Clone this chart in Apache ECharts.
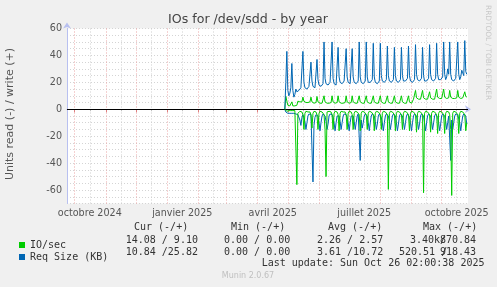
<!DOCTYPE html>
<html><head><meta charset="utf-8">
<script src="https://cdn.jsdelivr.net/npm/echarts@6/dist/echarts.min.js"></script>
<style>html,body{margin:0;padding:0;background:#f0f0f0}#c{width:497px;height:287px}</style>
</head><body><div id="c"></div>
<script>
// ---- data ----
const startDay = '2025-04-28';
// write Req Size (KB), daily
const reqWrite = [
 0,20,43,14,10,12,16,34,14,9,11,15,13,12,14,15,16,17,
 43,20,16,15,15,16,17,17,
 35,21,17,16,16,17,
 37,22,18,17,17,18,19,
 50,23,19,18,18,19,20,20,
 50,23,19,18,18,19,
 46,24,20,19,19,20,21,21,
 45,24,20,19,19,20,
 45,24,20,19,19,20,21,
 50,24,20,19,19,20,21,
 50,24,20,19,20,21,22,
 49,24,20,19,19,20,21,
 49,25,21,20,20,21,22,
 47,25,21,20,20,21,22,
 46,25,21,20,20,21,22,
 46,25,21,20,21,22,23,
 47,25,21,20,20,21,22,
 48,26,22,21,21,22,23,
 46,25,21,20,21,22,23,
 48,26,22,21,21,22,23,
 49,26,22,21,22,23,24,
 50,26,22,24,30,26,
 50,26,22,21,21,22,23,23,
 50,26,22,24,29,27,25,
 51,28,26
];
// read Req Size (KB), daily (shown negative)
const reqRead = [
 0,2,3,3,3,3,3,3,3,3,3.5,3.5,4,4,5,8,12,6,
 4,5,9,15,10,5,3.5,3.5,
 4,5,54,12,6,4,
 4,5,10,16,10,5,3.5,
 4,5,9,15,11,5,3.5,3.5,
 4,6,10,16,10,5,
 4,5,9,15,10,5,3.5,3.5,
 4,6,10,16,10,5,
 4,5,9,15,10,5,3.5,
 4,38,8,14,10,5,3.5,
 4,5,10,16,10,5,3.5,
 4,5,9,15,11,5,3.5,
 4,6,10,16,10,5,3.5,
 4,5,9,15,10,5,3.5,
 4,5,10,16,11,5,3.5,
 4,5,9,15,10,5,3.5,
 4,6,10,16,10,5,3.5,
 4,5,9,15,11,5,3.5,
 4,5,10,16,10,5,3.5,
 4,5,9,15,10,5,3.5,
 4,6,10,16,11,5,3.5,
 4,5,9,15,10,5,
 4,38,8,15,10,5,3.5,3.5,
 4,5,10,16,10,5,3.5,
 4,5,11
];
// write IO/sec, daily
const ioWrite = [
 0,9.5,9,3,2.5,2.5,3,5.5,2.5,2.5,2.5,2.5,3,6,6,5.5,5.5,5.5,
 9,6,5,5,5,5,5.5,5.5,
 9,5.5,4.5,4.5,4.5,5,
 9.5,5.5,4.5,4.5,4.5,4.5,5,
 10,5.5,4.5,4.5,4.5,4.5,5,5,
 10,5.5,4.5,4.5,4.5,5,
 10,5.5,4.5,4.5,4.5,4.5,5,5,
 10,5.5,4.5,4.5,4.5,5,
 10,5.5,4.5,4.5,4.5,4.5,5,
 10,5.5,4.5,4.5,4.5,4.5,5,
 10,5.5,4.5,4.5,4.5,4.5,5,
 10,5.5,4.5,4.5,4.5,4.5,5,
 10,5.5,4.5,4.5,4.5,4.5,5,
 10,5.5,4.5,4.5,4.5,4.5,5,
 10,5.5,4.5,4.5,4.5,4.5,5,
 10,5.5,4.5,4.5,4.5,4.5,5,
 10,5.5,4.5,4.5,4.5,7.5,7.5,
 14,8.5,7.5,7.5,7.5,7.5,8,
 14,8.5,7.5,7.5,7.5,7.5,8,
 13,8.5,7.5,7.5,7.5,7.5,8,
 15,9,8,8,8,8,8.5,
 15,9,8,8,8.5,8.5,
 14,9,8,8,8,8,8.5,8.5,
 14,9,8,8,8.5,8.5,9,
 13,9.5,9.1
];
// read IO/sec, daily (shown negative)
const ioRead = [
 0,1,1.5,1,1,1,1,2,1,1,1,1,56,3,2,1.5,2,2,
 4,15,3,1.5,1.5,2,2,2,
 4,14,3,1.5,2,2,
 4,15,3,1.5,1.5,2,2,
 4,15,50,2,1.5,1.5,2,2,
 4,15,3,1.5,2,2,
 4,16,3,1.5,1.5,2,2,2,
 4,15,3,1.5,2,2,
 4,15,3,1.5,1.5,2,2,
 4,16,3,1.5,1.5,2,2,
 4,15,3,1.5,1.5,2,2,
 4,16,3,1.5,1.5,2,2,
 4,15,3,1.5,1.5,2,2,
 4,59.5,3,1.5,1.5,2,2,
 4,16,3,1.5,1.5,2,2,
 4,15,3,1.5,1.5,2,2,
 4,16,3,1.5,1.5,2,2,
 4,17,3,1.5,1.5,2,2,
 4,62,3,1.5,1.5,2,2,
 4,17,3,1.5,1.5,2,2,
 4,18,3,1.5,1.5,2,2,
 4,18,3,1.5,2,2,
 4,15,64,3,1.5,1.5,2,2,
 4,18,3,1.5,1.5,2,2,
 4,16,10
];
const yTicks = [-60,-40,-20,0,20,40,60];
const monthStarts = ['2024-10-01','2024-11-01','2024-12-01','2025-01-01','2025-02-01','2025-03-01','2025-04-01','2025-05-01','2025-06-01','2025-07-01','2025-08-01','2025-09-01','2025-10-01'];
const midMonths = ['2024-10-16','2024-11-16','2024-12-16','2025-01-16','2025-02-16','2025-03-16','2025-04-16','2025-05-16','2025-06-16','2025-07-16','2025-08-16','2025-09-16','2025-10-16'];
const xLabelDates = ['2024-10-16','2025-01-16','2025-04-16','2025-07-16','2025-10-16'];
const xLabelTexts = ['octobre 2024','janvier 2025','avril 2025','juillet 2025','octobre 2025'];
const legendNames = ['IO/sec','Req Size (KB)'];
const colHeads = ['Cur (-/+)','Min (-/+)','Avg (-/+)','Max (-/+)'];
const curVals = ['14.08 / 9.10','10.84 /25.82'];
const minVals = ['0.00 / 0.00','0.00 / 0.00'];
const avgVals = ['2.26 / 2.57','3.61 /10.72'];
const maxNeg = ['3.40k/','520.51 /'];
const maxPos = ['870.84','918.43'];
const lastUpdate = 'Last update: Sun Oct 26 02:00:38 2025';

// ---- build ----
const ts = s => new Date(s + 'T00:00:00Z').getTime();
const DAY = 86400000;
const t0 = ts(startDay);
const pairs = (arr, sign) => arr.map((v, i) => [t0 + i * DAY, sign * v]);
const GREEN = '#00cc00', BLUE = '#0066b3';
const mono = '"DejaVu Sans Mono", monospace';
const sans = '"DejaVu Sans", sans-serif';
const txtCol = '#333';

const chart = echarts.init(document.getElementById('c'), null, {renderer: 'canvas'});
const g = [];
function t(x, y, s, opts) {
  g.push({type: 'text', x: x, y: y, silent: true,
    style: Object.assign({text: s, font: '10px ' + mono, fill: txtCol, textVerticalAlign: 'middle'}, opts || {})});
}
const colX = [134, 231, 328, 423];
colHeads.forEach((h, i) => t(colX[i], 227.5, h));
const rowY = [240, 252];
[0, 1].forEach(r => {
  t(125.7, rowY[r], curVals[r]);
  t(224, rowY[r], minVals[r]);
  t(317, rowY[r], avgVals[r]);
  t(r === 0 ? 410 : 399, rowY[r], maxNeg[r]);
  t(440, rowY[r], maxPos[r]);
});
t(261.7, 263.5, lastUpdate);
t(248, 276, 'Munin 2.0.67', {font: '8px ' + sans, fill: '#c0c0c0', textAlign: 'center'});
t(248, 19.5, 'IOs for /dev/sdd - by year', {font: '12.6px ' + sans, fill: '#444', textAlign: 'center'});
g.push({type: 'text', x: 10, y: 114, rotation: Math.PI / 2, silent: true,
  style: {text: 'Units read (-) / write (+)', font: '11px ' + sans, fill: '#555', textAlign: 'center', textVerticalAlign: 'middle'}});
g.push({type: 'text', x: 488, y: 5, rotation: -Math.PI / 2, silent: true,
  style: {text: 'RRDTOOL / TOBI OETIKER', font: '7.4px ' + sans, fill: '#c8c8c8', textAlign: 'left', textVerticalAlign: 'middle'}});

const xMin = ts('2024-09-23') + 8 * 3600000;
const xMax = ts('2025-10-27') + 5 * 3600000;
const labelTs = xLabelDates.map(ts);
const axisBlue = '#b8c0f0';
const lineSeries = (name, data, color, z) => ({
  name: name, type: 'line', data: data, showSymbol: false, symbol: 'none',
  lineStyle: {color: color, width: 1}, itemStyle: {color: color}, z: z, animation: false
});

chart.setOption({
  animation: false,
  backgroundColor: '#f0f0f0',
  grid: {left: 67, right: 29, top: 28.5, bottom: 83.5, show: true, backgroundColor: '#ffffff', borderWidth: 0},
  legend: {
    data: legendNames, orient: 'vertical', left: 14, top: 234, itemGap: 0,
    itemWidth: 6, itemHeight: 6, icon: 'rect',
    textStyle: {fontFamily: mono, fontSize: 10, color: txtCol, lineHeight: 12}
  },
  xAxis: [{
    type: 'value', min: xMin, max: xMax, position: 'bottom',
    axisLine: {show: true, lineStyle: {color: axisBlue, width: 1}, symbol: ['none', 'arrow'], symbolSize: [6, 6], symbolOffset: [0, 3]},
    axisTick: {show: true, customValues: monthStarts.map(ts), length: 3, lineStyle: {color: '#e08080'}},
    splitLine: {show: true, lineStyle: {color: '#eba4a4', type: [1, 2], width: 1}},
    axisLabel: {customValues: labelTs, margin: 5, fontFamily: sans, fontSize: 9.6, color: '#555',
      formatter: v => { const i = labelTs.indexOf(v); return i >= 0 ? xLabelTexts[i] : ''; }}
  }, {
    type: 'value', min: xMin, max: xMax, position: 'bottom',
    axisLine: {show: false},
    axisTick: {show: true, customValues: midMonths.map(ts), length: 2, lineStyle: {color: '#c0c0c0'}},
    splitLine: {show: true, lineStyle: {color: '#cfcfcf', type: [1, 2], width: 1}},
    axisLabel: {show: false}
  }],
  yAxis: [{
    type: 'value', min: -70, max: 60,
    axisLine: {show: true, lineStyle: {color: axisBlue, width: 1}, symbol: ['none', 'arrow'], symbolSize: [6, 6], symbolOffset: [0, 6]},
    axisTick: {show: false, customValues: yTicks},
    splitLine: {show: true, lineStyle: {color: '#eba4a4', type: [1, 2], width: 1}},
    axisLabel: {customValues: yTicks, margin: 5, fontFamily: sans, fontSize: 9.6, color: '#555'}
  }, {
    type: 'value', min: -70, max: 60, interval: 5, position: 'left',
    axisLine: {show: false}, axisTick: {show: false}, axisLabel: {show: false},
    splitLine: {show: true, lineStyle: {color: '#d4d4d4', type: [1, 2], width: 1}}
  }],
  series: [
    lineSeries('IO/sec', pairs(ioWrite, 1), GREEN, 3),
    lineSeries('Req Size (KB)', pairs(reqWrite, 1), BLUE, 4),
    lineSeries('Req Size (KB)', pairs(reqRead, -1), BLUE, 3),
    Object.assign(lineSeries('IO/sec', pairs(ioRead, -1), GREEN, 5), {
      markLine: {silent: true, symbol: 'none', label: {show: false}, animation: false,
        lineStyle: {color: '#000000', width: 1, type: 'solid'}, data: [{yAxis: 0}]}
    })
  ],
  graphic: g
});
</script></body></html>
